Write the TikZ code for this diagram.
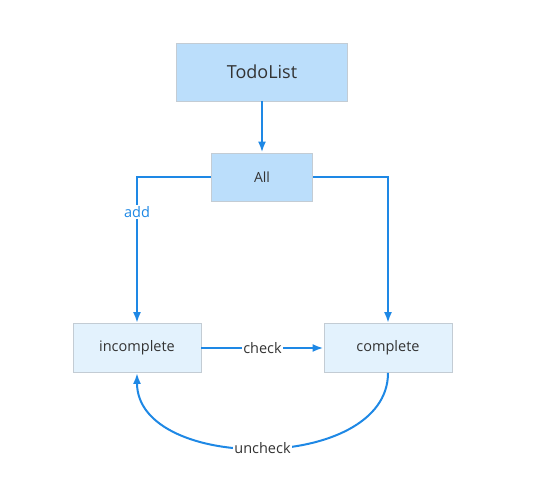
\documentclass[tikz,border=0pt]{standalone}
\usepackage{fontspec}
\setmainfont{Open Sans}
\usetikzlibrary{arrows.meta}
\definecolor{edgeblue}{HTML}{1E88E5}
\definecolor{darkfill}{HTML}{BBDEFB}
\definecolor{lightfill}{HTML}{E3F2FD}
\definecolor{boxline}{HTML}{C3CCD4}
\definecolor{txt}{HTML}{333333}
\tikzset{
  box/.style={draw=boxline, line width=0.9pt, text=txt, inner sep=0pt, font=\fontsize{14}{16}\selectfont},
  topbox/.style={box, fill=darkfill, minimum width=171pt, minimum height=58pt, font=\fontsize{18}{21}\selectfont},
  allbox/.style={box, fill=darkfill, minimum width=101pt, minimum height=48pt},
  statebox/.style={box, fill=lightfill, minimum width=128pt, minimum height=49pt, font=\fontsize{14.5}{17}\selectfont},
  conn/.style={draw=edgeblue, line width=2pt, -{Latex[length=11pt,width=8pt]}},
  lbl/.style={fill=white, inner sep=1pt, font=\fontsize{14.5}{17}\selectfont, text=txt},
  bluelbl/.style={lbl, text=edgeblue}
}
\begin{document}
\begin{tikzpicture}[x=1pt,y=-1pt]
\useasboundingbox (0,0) rectangle (536,486);
\node[topbox] (todo) at (262,72) {TodoList};
\node[allbox] (all) at (262,177) {All};
\node[statebox] (inc) at (137,348) {incomplete};
\node[statebox] (comp) at (388,348) {complete};
\draw[conn] (todo.south) -- (all.north);
\draw[conn] (all.west) -| node[bluelbl, pos=0.62] {add} (inc.north);
\draw[conn] (all.east) -| (comp.north);
\draw[conn] (inc.east) -- node[lbl] {check} (comp.west);
\draw[conn] (comp.south) .. controls +(0,100) and +(0,100) .. node[lbl, pos=0.5] {uncheck} (inc.south);
\end{tikzpicture}
\end{document}
